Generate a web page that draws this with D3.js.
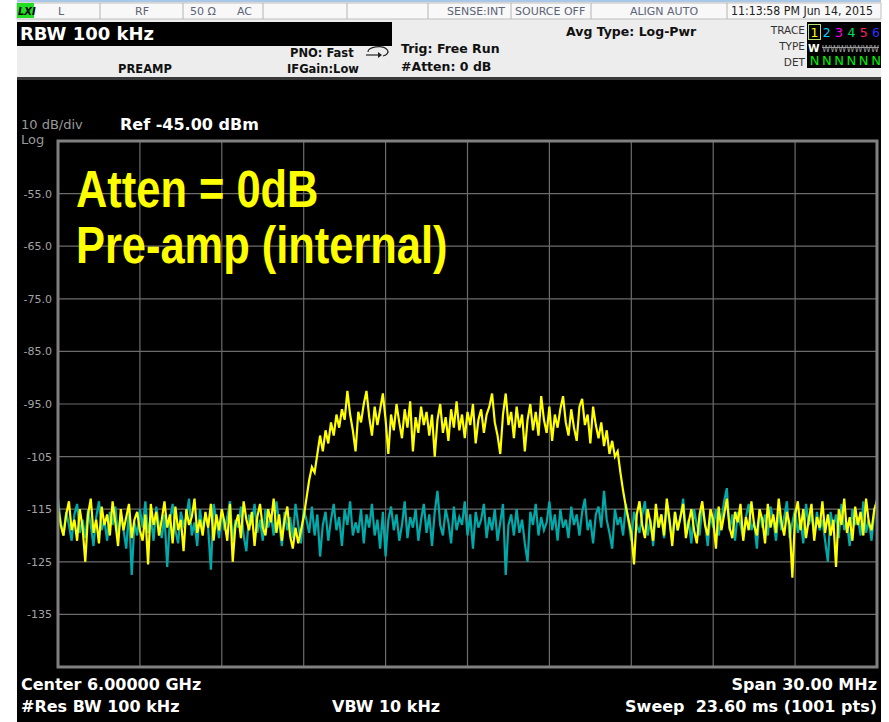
<!DOCTYPE html>
<html>
<head>
<meta charset="utf-8">
<style>
  body { margin: 0; background: #fff; }
</style>
</head>
<body>
<svg id="container" width="889" height="722" font-family="DejaVu Sans, sans-serif"></svg>
<script src="https://cdn.jsdelivr.net/npm/d3@7/dist/d3.min.js"></script>
<script>
// sweep settings (MHz)
const startFreq = 5985
const stopFreq = 6015
const refLevel = -45
const bottomLevel = -145

const yTickValues = [-55, -65, -75, -85, -95, -105, -115, -125, -135]
const yTickLabels = ["-55.0", "-65.0", "-75.0", "-85.0", "-95.0", "-105", "-115", "-125", "-135"]
const xGridValues = [5988, 5991, 5994, 5997, 6000, 6003, 6006, 6009, 6012]

// trace 1 (yellow) - preamp on, signal present, dBm (301 pts)
const trace1 = [
  -114.5, -118, -120, -116, -113.5, -119, -117, -121, -115, -118.5,
  -125, -116, -113, -119.5, -117, -121.5, -114.5, -118, -116, -120,
  -113.5, -117.5, -122, -115, -119, -116.5, -114, -120.5, -117, -115.5,
  -119, -121, -116, -125.5, -114, -118, -115.5, -120, -117, -113.5,
  -118.5, -116, -121.5, -114.5, -119, -117, -123, -115, -118, -116.5,
  -113, -119.5, -117, -120, -115.5, -118.5, -114, -121, -116, -119,
  -115, -117.5, -121, -114, -125, -118, -116, -120.5, -113.5, -117,
  -119, -115.5, -122, -116.5, -114, -118.5, -120, -115, -117.5, -113,
  -119.5, -116, -121, -117, -114.5, -120, -122.5, -118.5, -121.5, -119,
  -116.5, -113, -109.5, -107, -108, -104.5, -101, -104, -100, -102.5,
  -98.5, -101, -97, -99.5, -96, -98,
  -92.5, -97, -100, -104, -96.5, -98.5, -95, -92.5, -97.5, -101,
  -95.5, -99, -96, -93, -98, -104.5, -97, -100, -95, -98.5,
  -101.5, -96, -99.5, -94.5, -104, -97.5, -100.5, -95.5, -99, -96.5,
  -101, -97, -105, -98, -95, -100.5, -97.5, -102, -96, -99.5,
  -94.5, -100, -97, -101.5, -96.5, -99, -95, -102.5, -98, -96,
  -100.5, -97, -95.5, -93, -98.5, -101, -104.5, -97, -93, -99,
  -96.5, -101.5, -95.5, -99.5, -97, -104, -98, -95, -100, -96.5,
  -101, -93.5, -98, -100.5, -95.5, -102, -97, -99.5, -96, -93.5,
  -98.5, -101, -96, -99.5, -102, -95.5, -94, -99, -97, -102.5, -95.5,
  -99, -101.5, -98.5, -103, -100, -104.5, -102, -105, -104, -108, -111.5, -114.5,
  -117, -119.5, -125.5, -116, -113.5, -118, -120.5, -115, -117.5, -121,
  -114, -118.5, -116, -120, -113, -117, -122, -115.5, -119, -116.5,
  -114, -120.5, -117.5, -115, -119, -121.5, -116, -113.5, -118, -120,
  -115, -117, -122.5, -114.5, -119, -116, -113, -118.5, -120.5, -115.5,
  -117.5, -114, -121, -116.5, -119, -113.5, -118, -120, -115, -117,
  -121.5, -114, -118.5, -116, -119.5, -113, -117.5, -120, -115.5, -118,
  -128, -116, -113.5, -119, -115, -120.5, -117, -114, -121, -116.5,
  -118.5, -113.5, -119.5, -116, -120, -117, -126, -115, -118, -113,
  -119.5, -116.5, -121, -114.5, -118, -115.5, -120, -113, -117.5, -119,
  -115, -113.5
]

// trace 2 (cyan) - noise floor, dBm
const trace2 = [
  -113, -117.5, -120, -115.5, -118, -121, -116, -114, -119.5, -117,
  -120.5, -115, -118, -122, -116.5, -113.5, -119, -117, -121, -115.5,
  -118, -114.5, -120, -116, -119, -122.5, -115, -127.5, -117.5, -120,
  -115, -118.5, -113.5, -119.5, -116.5, -121, -114.5, -118, -120.5, -116,
  -126, -117, -114, -119, -121.5, -115.5, -118, -116.5, -113, -120,
  -117.5, -122, -115, -119, -116, -118.5, -126.5, -114, -117, -120.5,
  -115.5, -119, -116.5, -113.5, -121, -117, -118.5, -114.5, -120, -123,
  -116, -118, -114, -119.5, -117, -121, -115, -118.5, -116, -120,
  -113.5, -117.5, -122, -115.5, -119, -116.5, -120.5, -114, -118, -121.5,
  -115, -117, -119.5, -114.5, -120, -116, -124, -118, -115.5, -121,
  -117, -114, -119, -116.5, -122, -115, -118, -113.5, -120, -117.5,
  -119.5, -115, -121.5, -116, -118.5, -114, -120, -117, -122.5, -115.5,
  -124, -117, -114.5, -119, -116, -121, -118, -113.5, -120.5, -116.5,
  -118.5, -115, -121, -117, -114, -119.5, -116, -122, -115.5, -111.5,
  -118, -120, -115, -117.5, -121.5, -114.5, -119, -116.5, -118, -113.5,
  -120, -116, -122.5, -115.5, -118.5, -117, -114, -120.5, -116.5, -119,
  -115, -121, -117.5, -114, -127.5, -118, -116, -120, -115, -119.5,
  -117, -121.5, -125, -115.5, -118, -114, -120, -116.5, -119, -117.5,
  -113.5, -119, -116, -121, -115, -118.5, -117, -120.5, -114.5, -118,
  -116, -120, -115.5, -113, -119, -117, -121.5, -116, -114.5, -118.5,
  -111.5, -117, -119.5, -122.5, -115, -118, -116.5, -120, -114, -117.5,
  -121, -115.5, -118, -119.5, -116, -113.5, -120, -117, -122, -115,
  -118.5, -116, -120.5, -114, -117.5, -121, -115.5, -119, -116.5, -113,
  -119.5, -117, -121.5, -115, -118, -120, -114.5, -117.5, -122, -116,
  -118.5, -115, -120, -117, -113.5, -111, -119, -116, -121, -115.5,
  -118, -120.5, -116.5, -114, -119, -117.5, -122.5, -115, -118.5, -116,
  -120, -114.5, -117, -121, -115.5, -119, -116.5, -113.5, -120.5, -117.5,
  -115, -119.5, -117, -121.5, -114, -118, -116, -120, -115.5, -119,
  -117, -121, -125, -115.5, -118.5, -116, -120.5, -114, -119, -117.5,
  -122, -115, -118, -116.5, -120, -113.5, -119.5, -117, -121, -115.5,
  -113
]

const traceNums = ["1", "2", "3", "4", "5", "6"]
const traceColors = ["#ffff00", "#00ccff", "#ff00ff", "#00e060", "#ff2060", "#3030ff"]

let svg = d3.select("#container")

// ---------- header ----------
svg.append("rect").attr("x", 17).attr("y", 0).attr("width", 864).attr("height", 80).attr("fill", "#ededed")
svg.append("rect").attr("x", 17).attr("y", 0).attr("width", 864).attr("height", 2).attr("fill", "#a9c8e8")
svg.append("rect").attr("x", 17).attr("y", 3).attr("width", 864).attr("height", 16)
    .attr("fill", "#f8f8f8").attr("stroke", "#c0c0c0")
let cellEdges = [100, 183, 263, 347, 428, 511, 591, 727]
svg.selectAll(".cell").data(cellEdges).enter().append("line")
    .attr("x1", d => d).attr("x2", d => d).attr("y1", 3).attr("y2", 19)
    .attr("stroke", "#b4b4b4")

svg.append("rect").attr("x", 17).attr("y", 3).attr("width", 17).attr("height", 15).attr("fill", "#22dd22")
svg.append("text").attr("x", 18).attr("y", 15).text("LXI")
    .attr("font-size", 10).attr("font-weight", "bold").attr("font-style", "italic").attr("fill", "#000")

let row1 = [
  {t: "L", x: 61, a: "middle"},
  {t: "RF", x: 142, a: "middle"},
  {t: "50 Ω", x: 190, a: "start"},
  {t: "AC", x: 237, a: "start"},
  {t: "SENSE:INT", x: 447, a: "start"},
  {t: "SOURCE OFF", x: 515, a: "start"},
  {t: "ALIGN AUTO", x: 664, a: "middle"}
]
svg.selectAll(".row1").data(row1).enter().append("text")
    .attr("x", d => d.x).attr("y", 15).attr("text-anchor", d => d.a)
    .attr("font-size", 11).attr("fill", "#5c6478").text(d => d.t)
svg.append("text").attr("x", 731).attr("y", 15).attr("font-size", 11.5).attr("fill", "#222")
    .attr("textLength", 142).attr("lengthAdjust", "spacingAndGlyphs")
    .text("11:13:58 PM Jun 14, 2015")

svg.append("rect").attr("x", 17).attr("y", 22).attr("width", 375).attr("height", 24).attr("fill", "#000")
svg.append("text").attr("x", 20).attr("y", 40).attr("font-size", 18).attr("font-weight", "bold")
    .attr("fill", "#fff").text("RBW 100 kHz")

let boldLabels = [
  {t: "PNO: Fast", x: 290, y: 57, s: 11.5},
  {t: "IFGain:Low", x: 287, y: 73, s: 11.5},
  {t: "PREAMP", x: 118, y: 73, s: 11.5},
  {t: "Trig: Free Run", x: 401, y: 53, s: 12.5},
  {t: "#Atten: 0 dB", x: 401, y: 71, s: 12.5},
  {t: "Avg Type: Log-Pwr", x: 566, y: 36, s: 12.5}
]
svg.selectAll(".bl").data(boldLabels).enter().append("text")
    .attr("x", d => d.x).attr("y", d => d.y).attr("font-size", d => d.s)
    .attr("font-weight", "bold").attr("fill", "#111").text(d => d.t)

// free-run loop icon
svg.append("path").attr("d", "M368,52 a10,5 0 1,1 15,4")
    .attr("fill", "none").attr("stroke", "#222").attr("stroke-width", 1.2)
svg.append("path").attr("d", "M366,55 L380,55").attr("stroke", "#222").attr("stroke-width", 1.2)
svg.append("path").attr("d", "M378,52 L382,55 L378,58 Z").attr("fill", "#222")

let rightLabels = [{t: "TRACE", y: 34}, {t: "TYPE", y: 50}, {t: "DET", y: 66}]
svg.selectAll(".rl").data(rightLabels).enter().append("text")
    .attr("x", 805).attr("y", d => d.y).attr("text-anchor", "end")
    .attr("font-size", 10.5).attr("fill", "#333").text(d => d.t)

svg.append("rect").attr("x", 807).attr("y", 22).attr("width", 74).attr("height", 46).attr("fill", "#000")
svg.append("rect").attr("x", 808.5).attr("y", 24.5).attr("width", 12).attr("height", 15)
    .attr("fill", "none").attr("stroke", "#b8e070").attr("stroke-width", 1)
let slotX = d3.scalePoint().domain(traceNums).range([814.5, 876])
svg.selectAll(".tn").data(traceNums).enter().append("text")
    .attr("x", d => slotX(d)).attr("y", 37).attr("text-anchor", "middle")
    .attr("font-size", 12.5).attr("fill", (d, i) => traceColors[i]).text(d => d)
svg.append("text").attr("x", 808).attr("y", 52).attr("font-size", 10.5).attr("font-weight", "bold")
    .attr("fill", "#fff").text("W")
svg.append("text").attr("x", 822).attr("y", 52).attr("font-size", 9).attr("fill", "#a0a0a0")
    .attr("textLength", 57).attr("lengthAdjust", "spacingAndGlyphs").text("WWWWWWW")
svg.append("line").attr("x1", 822).attr("x2", 879).attr("y1", 47.5).attr("y2", 47.5)
    .attr("stroke", "#a0a0a0").attr("stroke-width", 1)
svg.selectAll(".det").data(traceNums).enter().append("text")
    .attr("x", d => slotX(d)).attr("y", 65).attr("text-anchor", "middle")
    .attr("font-size", 13).attr("fill", "#00ee00").text("N")

// separator bar
svg.append("rect").attr("x", 17).attr("y", 77).attr("width", 864).attr("height", 3).attr("fill", "#3a3a3a")

// ---------- display ----------
svg.append("rect").attr("x", 17).attr("y", 80).attr("width", 864).attr("height", 642).attr("fill", "#000")

let plotLeft = 58, plotRight = 877, plotTop = 141, plotBottom = 667

let x = d3.scaleLinear().domain([startFreq, stopFreq]).range([plotLeft, plotRight])
let y = d3.scaleLinear().domain([bottomLevel, refLevel]).range([plotBottom, plotTop])

let grid = svg.append("g")
grid.selectAll(".vg").data(xGridValues).enter().append("line")
    .attr("x1", d => x(d)).attr("x2", d => x(d)).attr("y1", plotTop).attr("y2", plotBottom)
    .attr("stroke", "#6c6c6c").attr("stroke-width", 1.2)
grid.selectAll(".hg").data(yTickValues).enter().append("line")
    .attr("x1", plotLeft).attr("x2", plotRight).attr("y1", d => y(d)).attr("y2", d => y(d))
    .attr("stroke", "#6c6c6c").attr("stroke-width", 1.2)

let yAxis = d3.axisLeft(y).tickValues(yTickValues).tickSize(0).tickPadding(6)
    .tickFormat((d, i) => yTickLabels[i])
let yg = svg.append("g").attr("transform", `translate(${plotLeft},0)`).call(yAxis)
yg.select(".domain").remove()
yg.attr("font-family", "DejaVu Sans, sans-serif").attr("font-size", 11)
yg.selectAll("text").attr("fill", "#a4a4a4")

let step = (stopFreq - startFreq) / (trace1.length - 1)
let line = d3.line().x((d, i) => x(startFreq + i * step)).y(d => y(d))

svg.append("path").datum(trace2).attr("d", line)
    .attr("fill", "none").attr("stroke", "#00aaaa").attr("stroke-width", 2.2)
svg.append("path").datum(trace1).attr("d", line)
    .attr("fill", "none").attr("stroke", "#ffff00").attr("stroke-width", 2.2)

svg.append("rect").attr("x", plotLeft).attr("y", plotTop)
    .attr("width", plotRight - plotLeft).attr("height", plotBottom - plotTop)
    .attr("fill", "none").attr("stroke", "#808080").attr("stroke-width", 3)

// annotations
svg.append("text").attr("x", 21).attr("y", 128.5).attr("font-size", 13).attr("fill", "#9a9a9a").text("10 dB/div")
svg.append("text").attr("x", 21).attr("y", 143.5).attr("font-size", 13).attr("fill", "#9a9a9a").text("Log")
svg.append("text").attr("x", 120).attr("y", 130).attr("font-size", 16).attr("font-weight", "bold")
    .attr("fill", "#fff").text("Ref -45.00 dBm")

let bigText = [{t: "Atten = 0dB", y: 207}, {t: "Pre-amp (internal)", y: 263}]
svg.selectAll(".big").data(bigText).enter().append("text")
    .attr("transform", d => `translate(76,${d.y}) scale(0.835,1)`)
    .style("font-family", "'Liberation Sans', Arial, sans-serif")
    .attr("font-size", 52).attr("font-weight", "bold").attr("fill", "#ffff00").text(d => d.t)

let footer = [
  {t: "Center 6.00000 GHz", x: 21, y: 690, a: "start"},
  {t: "#Res BW 100 kHz", x: 21, y: 712, a: "start"},
  {t: "VBW 10 kHz", x: 332, y: 712, a: "start"},
  {t: "Span 30.00 MHz", x: 877, y: 690, a: "end"},
  {t: "Sweep  23.60 ms (1001 pts)", x: 877, y: 712, a: "end"}
]
svg.selectAll(".ft").data(footer).enter().append("text")
    .attr("x", d => d.x).attr("y", d => d.y).attr("text-anchor", d => d.a)
    .attr("font-size", 16).attr("font-weight", "bold").attr("fill", "#fff")
    .style("white-space", "pre").text(d => d.t)
</script>
</body>
</html>
